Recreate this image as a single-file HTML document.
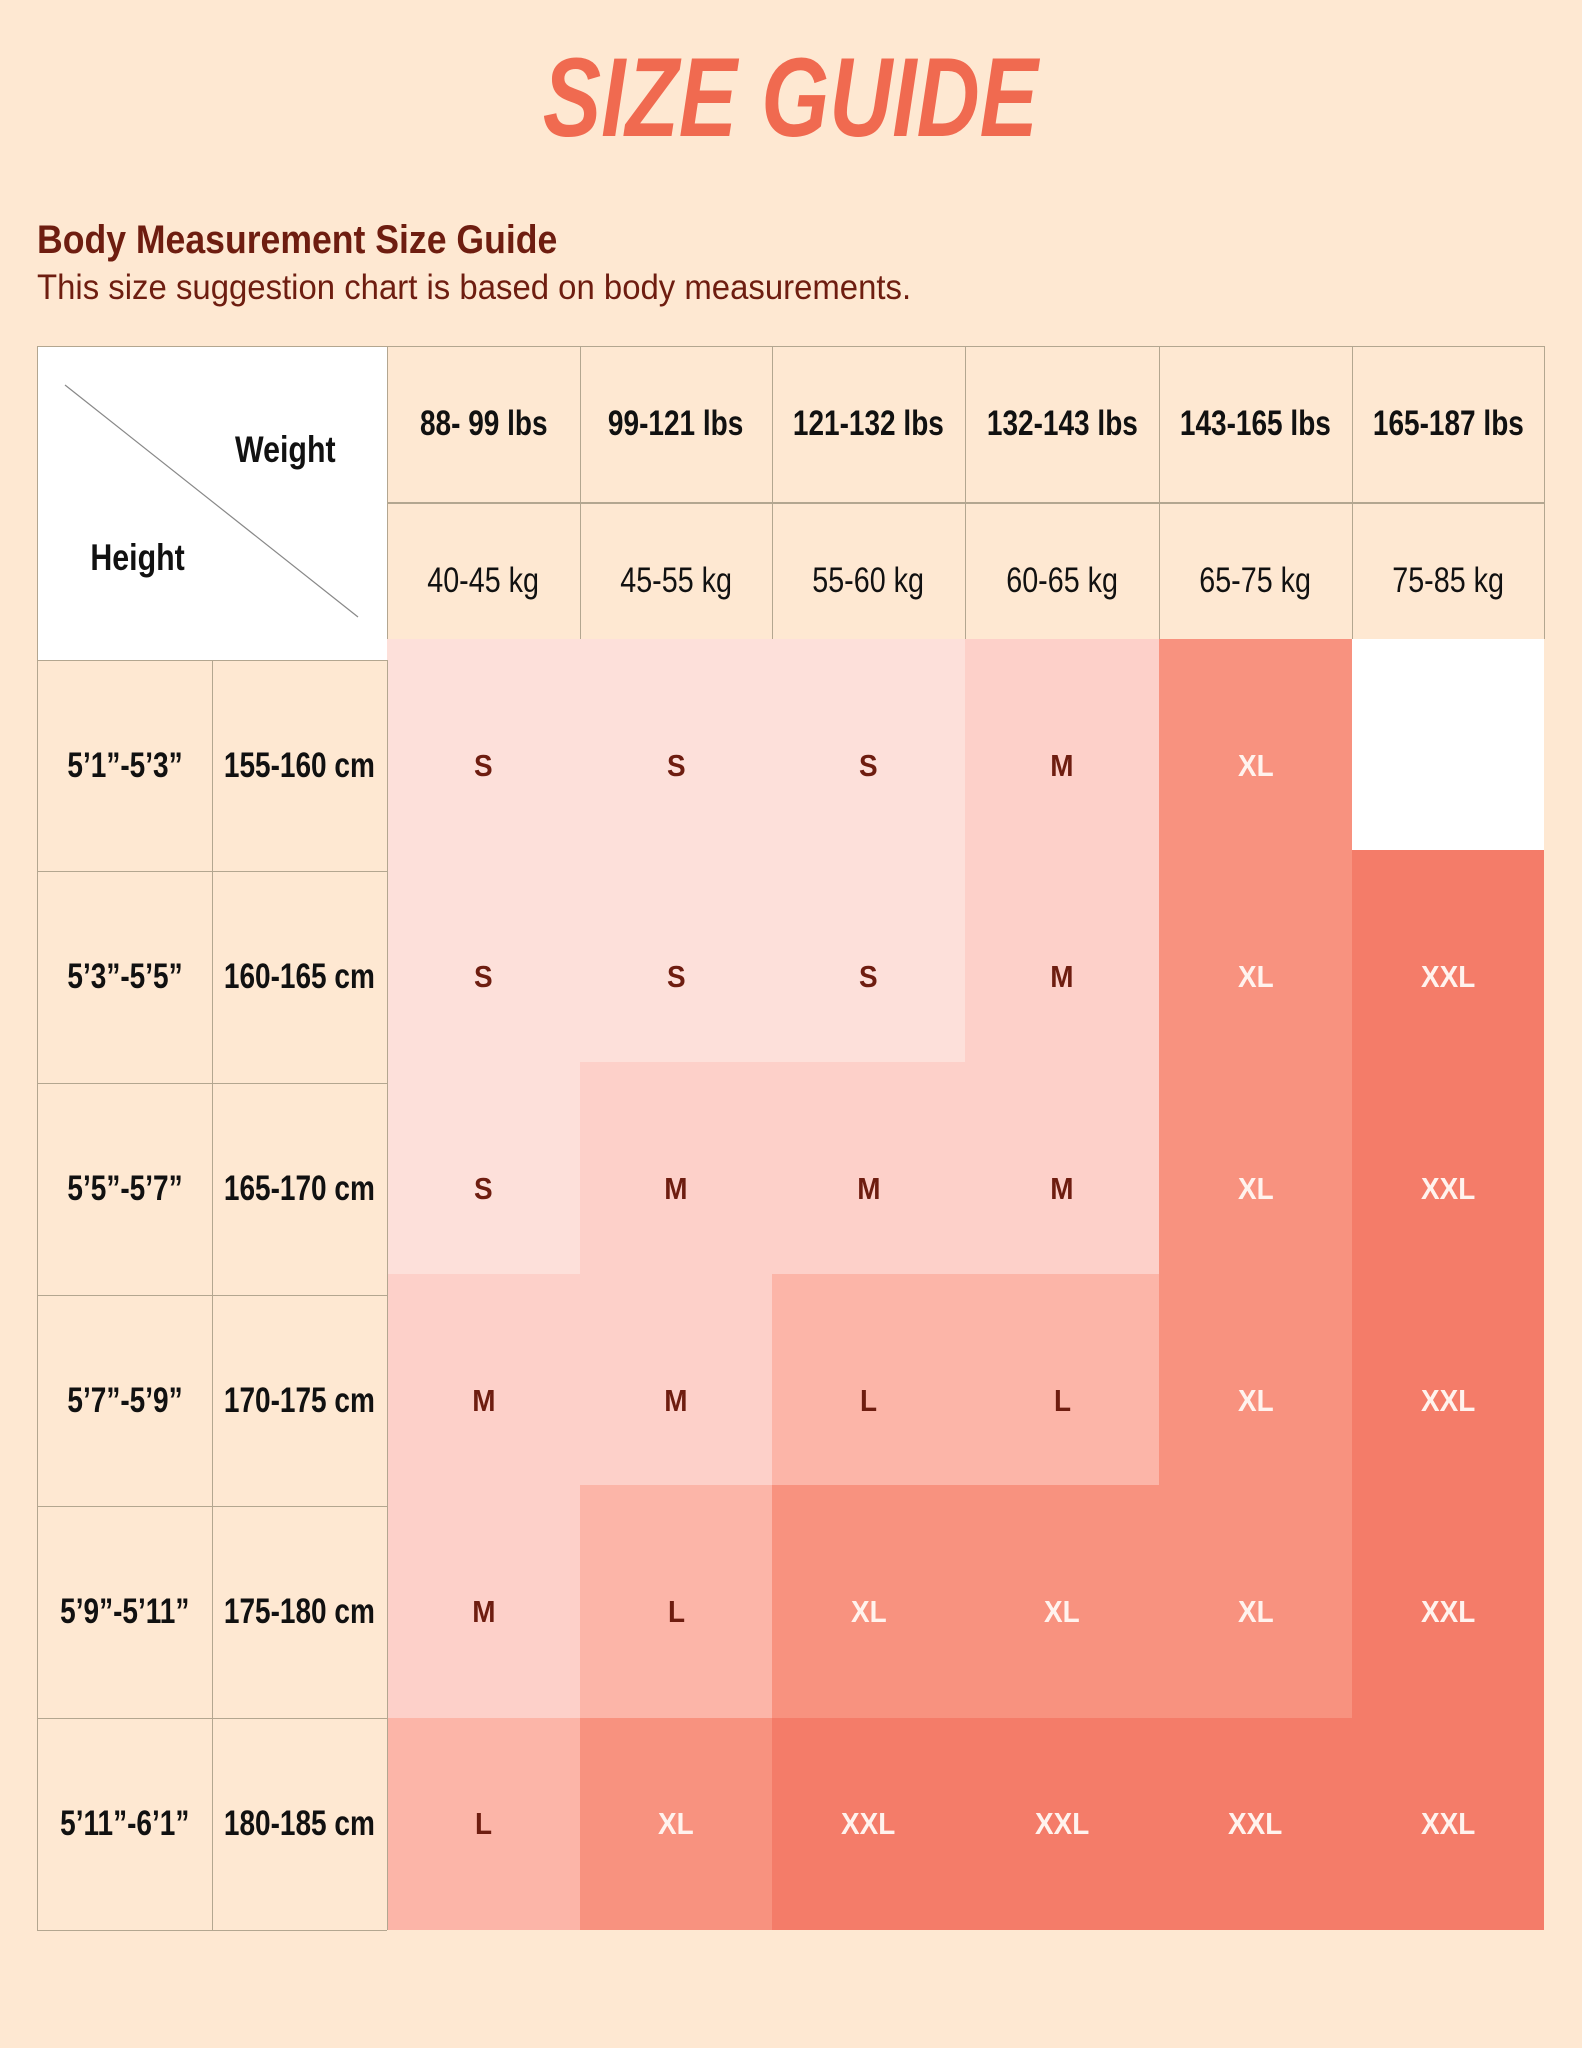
<!DOCTYPE html>
<html><head><meta charset="utf-8"><style>
body{margin:0;width:1582px;height:2048px;background:#fee8d2;position:relative;overflow:hidden;font-family:"Liberation Sans",sans-serif}
.a{position:absolute}
.n{font-weight:bold}
.t{position:absolute;display:flex;align-items:center;justify-content:center;text-align:center;white-space:nowrap}
.t span{display:inline-block}
.hl{position:absolute;height:1px;background:#b3a690}
.vl{position:absolute;width:1px;background:#b3a690}
</style></head><body>
<div class="t n" style="left:480px;top:40px;width:620px;height:115px;font-size:112px;color:#f06a50;font-style:italic"><span style="transform:scaleX(0.78)">SIZE GUIDE</span></div>
<div class="a n" style="left:37px;top:218px;font-size:40px;color:#6e1d10;transform:scaleX(0.89);transform-origin:0 0;white-space:nowrap">Body Measurement Size Guide</div>
<div class="a" style="left:37px;top:268px;font-size:35px;color:#6e1d10;transform:scaleX(0.94);transform-origin:0 0;white-space:nowrap">This size suggestion chart is based on body measurements.</div>
<div id="g"></div>
<script>
var g=document.getElementById('g'),h='';
var X=[387,580,772,965,1159,1352,1544];
var RT=[639,850,1062,1274,1485,1718,1930];
var LR=[660,871,1083,1295,1506,1718,1930];
var col={A:'#fde0da',B:'#fdd0c9',C:'#fcb5a8',XL:'#f8927f',XXL:'#f47c69',W:'#ffffff'};
var M=[['A','A','A','B','XL','W'],['A','A','A','B','XL','XXL'],['A','B','B','B','XL','XXL'],['B','B','C','C','XL','XXL'],['B','C','XL','XL','XL','XXL'],['C','XL','XXL','XXL','XXL','XXL']];
var T=[['S','S','S','M','XL',''],['S','S','S','M','XL','XXL'],['S','M','M','M','XL','XXL'],['M','M','L','L','XL','XXL'],['M','L','XL','XL','XL','XXL'],['L','XL','XXL','XXL','XXL','XXL']];
var lbs=['88- 99 lbs','99-121 lbs','121-132 lbs','132-143 lbs','143-165 lbs','165-187 lbs'];
var kg=['40-45 kg','45-55 kg','55-60 kg','60-65 kg','65-75 kg','75-85 kg'];
var ft=['5’1”-5’3”','5’3”-5’5”','5’5”-5’7”','5’7”-5’9”','5’9”-5’11”','5’11”-6’1”'];
var cm=['155-160 cm','160-165 cm','165-170 cm','170-175 cm','175-180 cm','180-185 cm'];
function sp(s,k){return '<span style="transform:scaleX('+k+')">'+s+'</span>';}
for(var r=0;r<6;r++)for(var c=0;c<6;c++){
 h+='<div class="a" style="left:'+X[c]+'px;top:'+RT[r]+'px;width:'+(X[c+1]-X[c])+'px;height:'+(RT[r+1]-RT[r])+'px;background:'+col[M[r][c]]+'"></div>';
 var tc=(M[r][c]=='XL'||M[r][c]=='XXL')?'#fff3ee':'#6e1d10';
 h+='<div class="t" style="left:'+X[c]+'px;top:'+LR[r]+'px;width:'+(X[c+1]-X[c])+'px;height:'+(LR[r+1]-LR[r])+'px;font-size:31px;font-weight:bold;color:'+tc+'">'+sp(T[r][c],0.9)+'</div>';
}
h+='<div class="a" style="left:37px;top:346px;width:350px;height:314px;background:#fff"></div>';
h+='<svg class="a" style="left:0;top:0" width="1582" height="700"><line x1="65" y1="385" x2="358" y2="617" stroke="#888" stroke-width="1.2"/></svg>';
h+='<div class="t n" style="left:220px;top:425px;width:130px;height:50px;font-size:37px;color:#111">'+sp('Weight',0.82)+'</div>';
h+='<div class="t n" style="left:70px;top:533px;width:135px;height:50px;font-size:37px;color:#111">'+sp('Height',0.82)+'</div>';
for(var c=0;c<6;c++){
 h+='<div class="t n" style="left:'+X[c]+'px;top:346px;width:'+(X[c+1]-X[c])+'px;height:156px;font-size:35px;color:#111">'+sp(lbs[c],0.8)+'</div>';
 h+='<div class="t" style="left:'+X[c]+'px;top:502px;width:'+(X[c+1]-X[c])+'px;height:158px;font-size:35px;color:#111">'+sp(kg[c],0.82)+'</div>';
}
for(var r=0;r<6;r++){
 h+='<div class="t n" style="left:37px;top:'+LR[r]+'px;width:175px;height:'+(LR[r+1]-LR[r])+'px;font-size:35px;color:#111">'+sp(ft[r],0.8)+'</div>';
 h+='<div class="t n" style="left:212px;top:'+LR[r]+'px;width:175px;height:'+(LR[r+1]-LR[r])+'px;font-size:35px;color:#111">'+sp(cm[r],0.8)+'</div>';
}
h+='<div class="hl" style="left:37px;top:346px;width:1507px"></div>';
h+='<div class="hl" style="left:387px;top:502px;width:1157px;height:2px"></div>';
for(var c=0;c<7;c++)h+='<div class="vl" style="left:'+X[c]+'px;top:346px;height:293px"></div>';
for(var r=0;r<7;r++)h+='<div class="hl" style="left:37px;top:'+LR[r]+'px;width:350px"></div>';
[37,212,387].forEach(function(x){h+='<div class="vl" style="left:'+x+'px;top:660px;height:1270px"></div>'});
h+='<div class="vl" style="left:37px;top:346px;height:314px"></div>';
g.innerHTML=h;
</script>
</body></html>
